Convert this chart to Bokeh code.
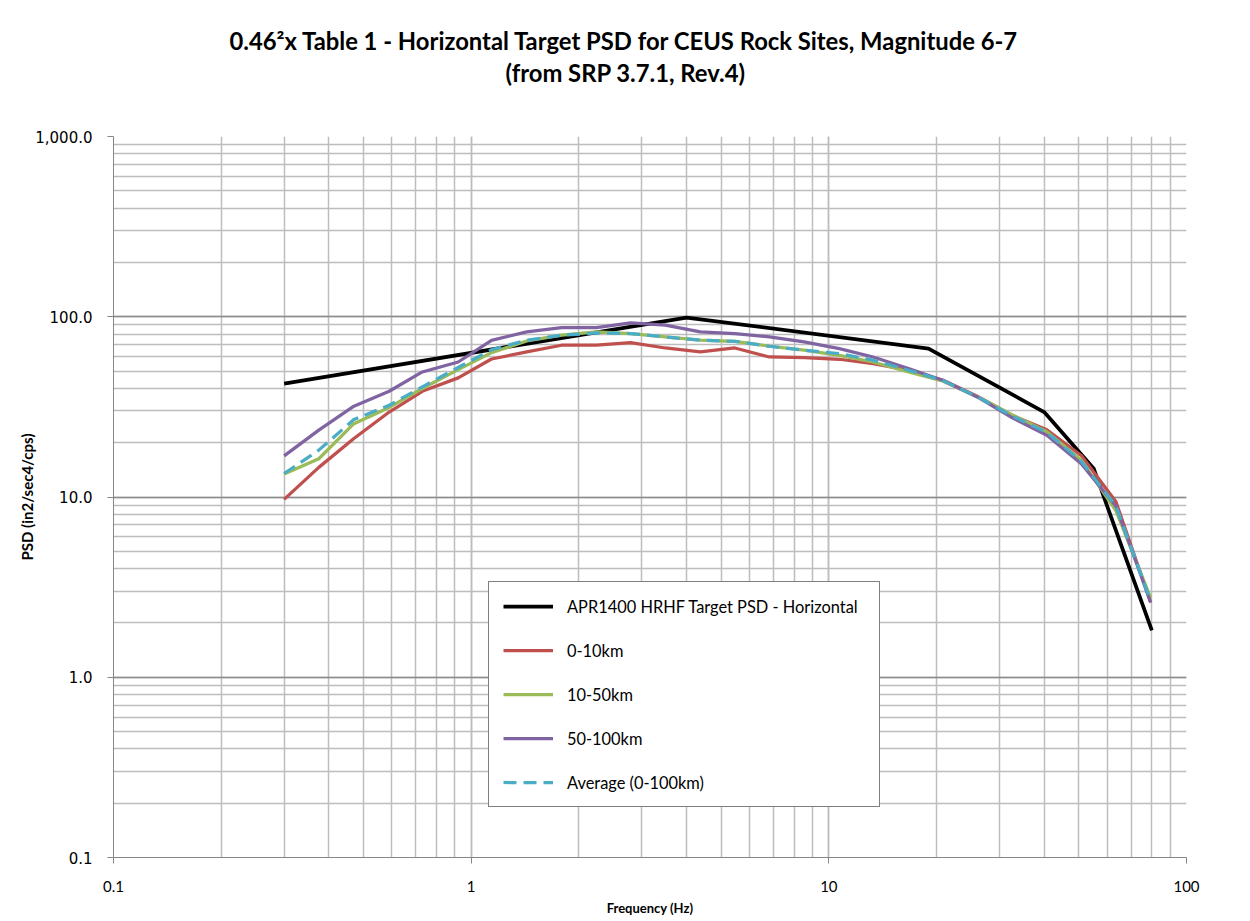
from bokeh.plotting import figure
from bokeh.models import (Range1d, NumeralTickFormatter, CustomJSTickFormatter,
                          Title, LogTicker)
from bokeh.embed import file_html
from bokeh.resources import INLINE

# ---- data ----
target_freq = [0.3, 4.0, 19.0, 40.0, 55.0, 80.0]
target_psd = [42.6, 99.0, 66.6, 29.6, 14.4, 1.82]

freq = [0.30, 0.375, 0.47, 0.59, 0.73, 0.92, 1.14, 1.43, 1.79, 2.24, 2.79, 3.49,
        4.37, 5.46, 6.82, 8.53, 10.7, 13.3, 16.7, 20.8, 26.0, 32.5, 40.7, 50.8,
        63.5, 79.4]
psd_0_10 = [9.7, 14.6, 21.1, 29.6, 38.6, 45.8, 58.3, 63.8, 69.5, 69.5, 71.9, 67.1,
            63.8, 67.1, 59.8, 59.4, 58.1, 55.0, 50.5, 44.6, 36.2, 28.4, 23.6, 17.0,
            9.4, 2.6]
psd_10_50 = [13.4, 16.3, 25.5, 31.4, 40.0, 50.9, 63.2, 73.4, 79.0, 82.4, 80.7, 77.3,
             74.1, 73.1, 68.6, 65.2, 61.1, 56.1, 49.4, 44.0, 36.0, 28.6, 23.0, 16.0,
             8.4, 2.75]
psd_50_100 = [16.9, 23.5, 31.9, 38.6, 49.4, 56.1, 73.9, 82.4, 87.1, 87.1, 92.4, 89.8,
              82.4, 80.7, 77.3, 72.5, 66.6, 59.8, 51.6, 44.4, 35.9, 27.6, 22.0, 15.3,
              8.9, 2.6]
psd_avg = [13.5, 18.2, 26.9, 32.3, 40.8, 52.3, 65.6, 74.1, 79.0, 81.3, 80.7, 77.3,
           74.1, 73.1, 68.6, 65.2, 62.5, 57.4, 50.5, 44.3, 36.0, 28.2, 22.8, 15.8,
           8.9, 2.65]

series_names = ["APR1400 HRHF Target PSD - Horizontal", "0-10km", "10-50km",
                "50-100km", "Average (0-100km)"]
title_line1 = "0.46\u00b2x Table 1 - Horizontal Target PSD for CEUS Rock Sites, Magnitude 6-7"
title_line2 = "(from SRP 3.7.1, Rev.4)"
x_label = "Frequency (Hz)"
y_label = "PSD (in2/sec4/cps)"

# ---- figure ----
W, H = 1250, 921
p = figure(width=W, height=H, x_axis_type="log", y_axis_type="log",
           x_range=Range1d(0.1, 100), y_range=Range1d(0.1, 1000),
           output_backend="svg", toolbar_location=None,
           min_border_left=113, min_border_right=64,
           min_border_top=136, min_border_bottom=64)
p.background_fill_color = "white"
p.border_fill_color = "white"
p.outline_line_color = None

# title lines (left aligned with an offset so that they sit centred on the page)
spacer = Title(text=" ", text_font_size="10px", standoff=37)
t2 = Title(text=title_line2, align="left", offset=392, standoff=0,
           text_font="Lato", text_font_style="bold", text_font_size="23.8px",
           text_color="black")
t1 = Title(text=title_line1, align="left", offset=116, standoff=4,
           text_font="Lato", text_font_style="bold", text_font_size="23.8px",
           text_color="black")
p.add_layout(spacer, "above")
p.add_layout(t2, "above")
p.add_layout(t1, "above")

# ticks / grids
p.xaxis.ticker = LogTicker(mantissas=[1], num_minor_ticks=10, desired_num_ticks=4)
p.yaxis.ticker = LogTicker(mantissas=[1], num_minor_ticks=10, desired_num_ticks=5)
p.yaxis.formatter = NumeralTickFormatter(format="0,0.0")
p.xaxis.formatter = CustomJSTickFormatter(code="return String(Number(tick.toPrecision(6)));")

for ax in (p.xaxis, p.yaxis):
    ax.axis_line_color = "#868686"
    ax.major_tick_line_color = "#868686"
    ax.major_tick_in = 0
    ax.major_tick_out = 6
    ax.minor_tick_in = 0
    ax.minor_tick_out = 0
    ax.major_label_text_color = "black"
    ax.axis_label_text_color = "black"
    ax.axis_label_text_font = "Lato"
    ax.axis_label_text_font_style = "bold"

p.xaxis.axis_label = x_label
p.yaxis.axis_label = y_label
p.xaxis.axis_label_text_font_size = "13px"
p.yaxis.axis_label_text_font_size = "15px"
p.xaxis.major_label_text_font = "Lato"
p.xaxis.major_label_text_font_size = "15px"
p.xaxis.major_label_standoff = 17
p.xaxis.axis_label_standoff = 5
p.yaxis.major_label_text_font = "DejaVu Sans"
p.yaxis.major_label_text_font_size = "15px"
p.yaxis.major_label_standoff = 15
p.yaxis.axis_label_standoff = -4

p.xgrid.grid_line_color = "#bdbdbd"
p.xgrid.minor_grid_line_color = "#bdbdbd"
p.xgrid.grid_line_width = 1.5
p.xgrid.minor_grid_line_width = 1.5
p.ygrid.grid_line_color = "#8c8c8c"
p.ygrid.minor_grid_line_color = "#bdbdbd"
p.ygrid.grid_line_width = 1.5
p.ygrid.minor_grid_line_width = 1.5

# ---- series ----
p.line(target_freq, target_psd, line_color="black", line_width=3.75,
       line_join="round", legend_label=series_names[0])
p.line(freq, psd_0_10, line_color="#C0504D", line_width=3.25, line_join="round",
       legend_label=series_names[1])
p.line(freq, psd_10_50, line_color="#9BBB59", line_width=3.25, line_join="round",
       legend_label=series_names[2])
p.line(freq, psd_50_100, line_color="#8064A2", line_width=3.25, line_join="round",
       legend_label=series_names[3])
p.line(freq, psd_avg, line_color="#4BACC6", line_width=3.25, line_join="round",
       line_dash="13 7", legend_label=series_names[4])

leg = p.legend[0]
leg.location = (375, 50)
leg.margin = 0
leg.padding = 14
leg.spacing = 24
leg.glyph_width = 50
leg.glyph_height = 20
leg.label_height = 20
leg.label_standoff = 14
leg.label_width = 298
leg.label_text_font = "Lato"
leg.label_text_font_size = "16.4px"
leg.label_text_color = "black"
leg.border_line_color = "black"
leg.border_line_width = 1
leg.background_fill_color = "white"
leg.background_fill_alpha = 1.0

open("out.html", "w").write(file_html(p, INLINE))
